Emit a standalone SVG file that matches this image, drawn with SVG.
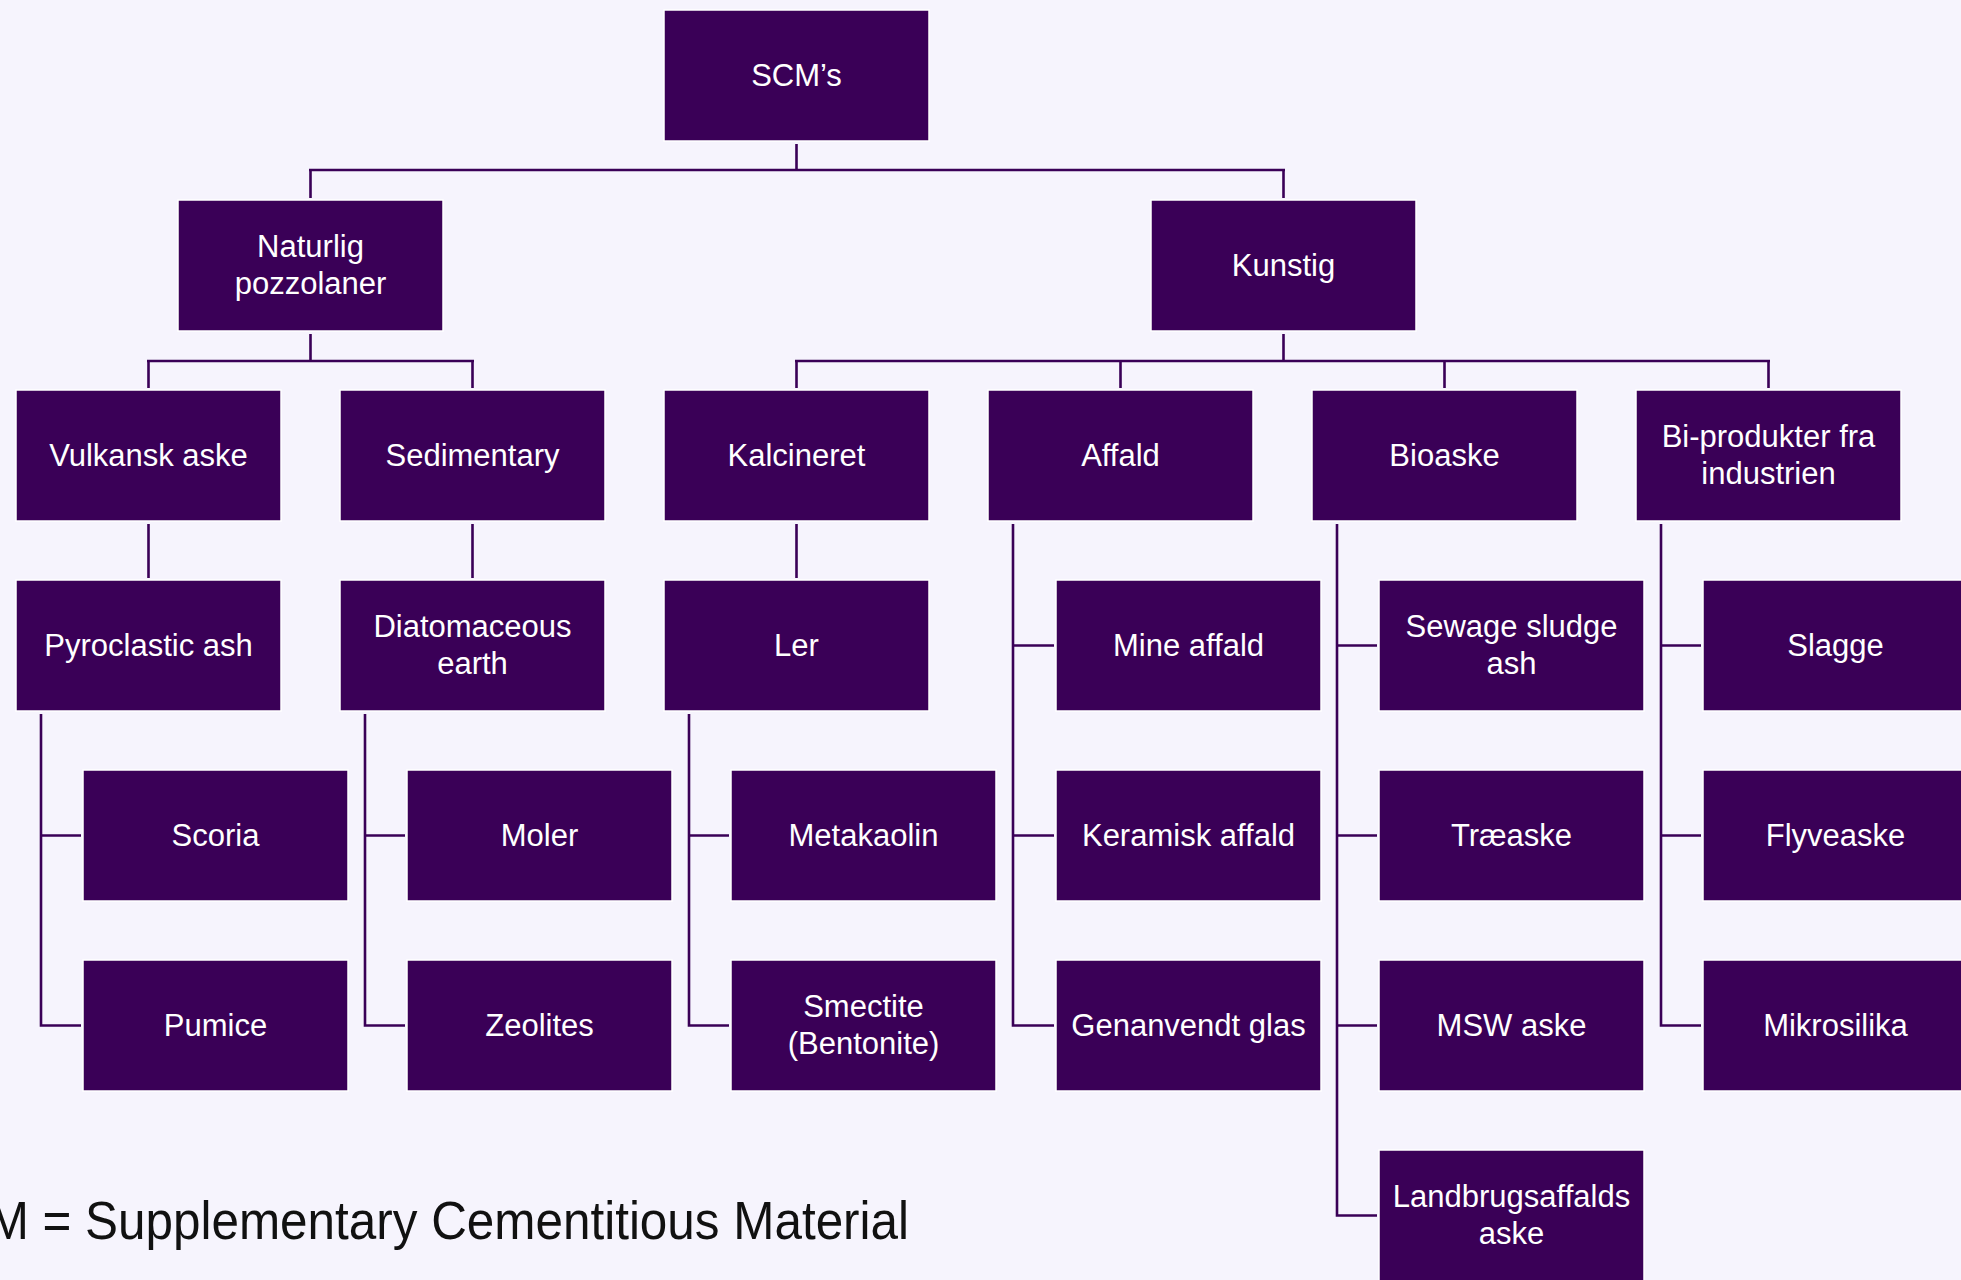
<svg xmlns="http://www.w3.org/2000/svg" width="1961" height="1280" viewBox="0 0 1961 1280">
<style>
.box{fill:#3a0057;stroke:#ffffff;stroke-width:1.5}
.lbl{fill:#ffffff;font-family:"Liberation Sans",Arial,sans-serif;font-size:31px;text-anchor:middle}
.con{fill:none;stroke:#3a0057;stroke-width:2.6}
.foot{fill:#111111;font-family:"Liberation Sans",Arial,sans-serif;font-size:53px}
</style>
<rect x="0" y="0" width="1961" height="1280" fill="#f6f4fd"/>
<g id="connectors">
<path class="con" d="M796.5,144 V170 M309,170 H1285 M310.5,170 V198 M1283.5,170 V198"/>
<path class="con" d="M310.5,334 V361 M147,361 H474 M148.5,361 V388 M472.5,361 V388"/>
<path class="con" d="M1283.5,334 V361 M795,361 H1770 M796.5,361 V388 M1120.5,361 V388 M1444.5,361 V388 M1768.5,361 V388"/>
<path class="con" d="M148.5,524 V578 M472.5,524 V578 M796.5,524 V578"/>
<path class="con" d="M41,714 V1025.5 H81 M41,835.5 H81"/>
<path class="con" d="M365,714 V1025.5 H405 M365,835.5 H405"/>
<path class="con" d="M689,714 V1025.5 H729 M689,835.5 H729"/>
<path class="con" d="M1013,524 V1025.5 H1054 M1013,645.5 H1054 M1013,835.5 H1054"/>
<path class="con" d="M1337,524 V1215.5 H1377 M1337,645.5 H1377 M1337,835.5 H1377 M1337,1025.5 H1377"/>
<path class="con" d="M1661,524 V1025.5 H1701 M1661,645.5 H1701 M1661,835.5 H1701"/>
</g>
<g id="scm"><rect class="box" x="664" y="10" width="265" height="131"/><text class="lbl" x="796.5" y="86">SCM’s</text></g>
<g id="naturlig"><rect class="box" x="178" y="200" width="265" height="131"/><text class="lbl" x="310.5" y="256.5">Naturlig</text><text class="lbl" x="310.5" y="293.5">pozzolaner</text></g>
<g id="kunstig"><rect class="box" x="1151" y="200" width="265" height="131"/><text class="lbl" x="1283.5" y="276">Kunstig</text></g>
<g id="vulkansk"><rect class="box" x="16" y="390" width="265" height="131"/><text class="lbl" x="148.5" y="466">Vulkansk aske</text></g>
<g id="sedimentary"><rect class="box" x="340" y="390" width="265" height="131"/><text class="lbl" x="472.5" y="466">Sedimentary</text></g>
<g id="kalcineret"><rect class="box" x="664" y="390" width="265" height="131"/><text class="lbl" x="796.5" y="466">Kalcineret</text></g>
<g id="affald"><rect class="box" x="988" y="390" width="265" height="131"/><text class="lbl" x="1120.5" y="466">Affald</text></g>
<g id="bioaske"><rect class="box" x="1312" y="390" width="265" height="131"/><text class="lbl" x="1444.5" y="466">Bioaske</text></g>
<g id="biprodukter"><rect class="box" x="1636" y="390" width="265" height="131"/><text class="lbl" x="1768.5" y="446.5">Bi-produkter fra</text><text class="lbl" x="1768.5" y="483.5">industrien</text></g>
<g id="pyroclastic"><rect class="box" x="16" y="580" width="265" height="131"/><text class="lbl" x="148.5" y="656">Pyroclastic ash</text></g>
<g id="diatomaceous"><rect class="box" x="340" y="580" width="265" height="131"/><text class="lbl" x="472.5" y="636.5">Diatomaceous</text><text class="lbl" x="472.5" y="673.5">earth</text></g>
<g id="ler"><rect class="box" x="664" y="580" width="265" height="131"/><text class="lbl" x="796.5" y="656">Ler</text></g>
<g id="scoria"><rect class="box" x="83" y="770" width="265" height="131"/><text class="lbl" x="215.5" y="846">Scoria</text></g>
<g id="pumice"><rect class="box" x="83" y="960" width="265" height="131"/><text class="lbl" x="215.5" y="1036">Pumice</text></g>
<g id="moler"><rect class="box" x="407" y="770" width="265" height="131"/><text class="lbl" x="539.5" y="846">Moler</text></g>
<g id="zeolites"><rect class="box" x="407" y="960" width="265" height="131"/><text class="lbl" x="539.5" y="1036">Zeolites</text></g>
<g id="metakaolin"><rect class="box" x="731" y="770" width="265" height="131"/><text class="lbl" x="863.5" y="846">Metakaolin</text></g>
<g id="smectite"><rect class="box" x="731" y="960" width="265" height="131"/><text class="lbl" x="863.5" y="1016.5">Smectite</text><text class="lbl" x="863.5" y="1053.5">(Bentonite)</text></g>
<g id="mineaffald"><rect class="box" x="1056" y="580" width="265" height="131"/><text class="lbl" x="1188.5" y="656">Mine affald</text></g>
<g id="keramisk"><rect class="box" x="1056" y="770" width="265" height="131"/><text class="lbl" x="1188.5" y="846">Keramisk affald</text></g>
<g id="genanvendt"><rect class="box" x="1056" y="960" width="265" height="131"/><text class="lbl" x="1188.5" y="1036">Genanvendt glas</text></g>
<g id="sewage"><rect class="box" x="1379" y="580" width="265" height="131"/><text class="lbl" x="1511.5" y="636.5">Sewage sludge</text><text class="lbl" x="1511.5" y="673.5">ash</text></g>
<g id="traeaske"><rect class="box" x="1379" y="770" width="265" height="131"/><text class="lbl" x="1511.5" y="846">Træaske</text></g>
<g id="msw"><rect class="box" x="1379" y="960" width="265" height="131"/><text class="lbl" x="1511.5" y="1036">MSW aske</text></g>
<g id="landbrug"><rect class="box" x="1379" y="1150" width="265" height="131"/><text class="lbl" x="1511.5" y="1206.5">Landbrugsaffalds</text><text class="lbl" x="1511.5" y="1243.5">aske</text></g>
<g id="slagge"><rect class="box" x="1703" y="580" width="265" height="131"/><text class="lbl" x="1835.5" y="656">Slagge</text></g>
<g id="flyveaske"><rect class="box" x="1703" y="770" width="265" height="131"/><text class="lbl" x="1835.5" y="846">Flyveaske</text></g>
<g id="mikrosilika"><rect class="box" x="1703" y="960" width="265" height="131"/><text class="lbl" x="1835.5" y="1036">Mikrosilika</text></g>
<text class="foot" x="-81" y="1239" textLength="990" lengthAdjust="spacingAndGlyphs">SCM = Supplementary Cementitious Material</text>
</svg>
